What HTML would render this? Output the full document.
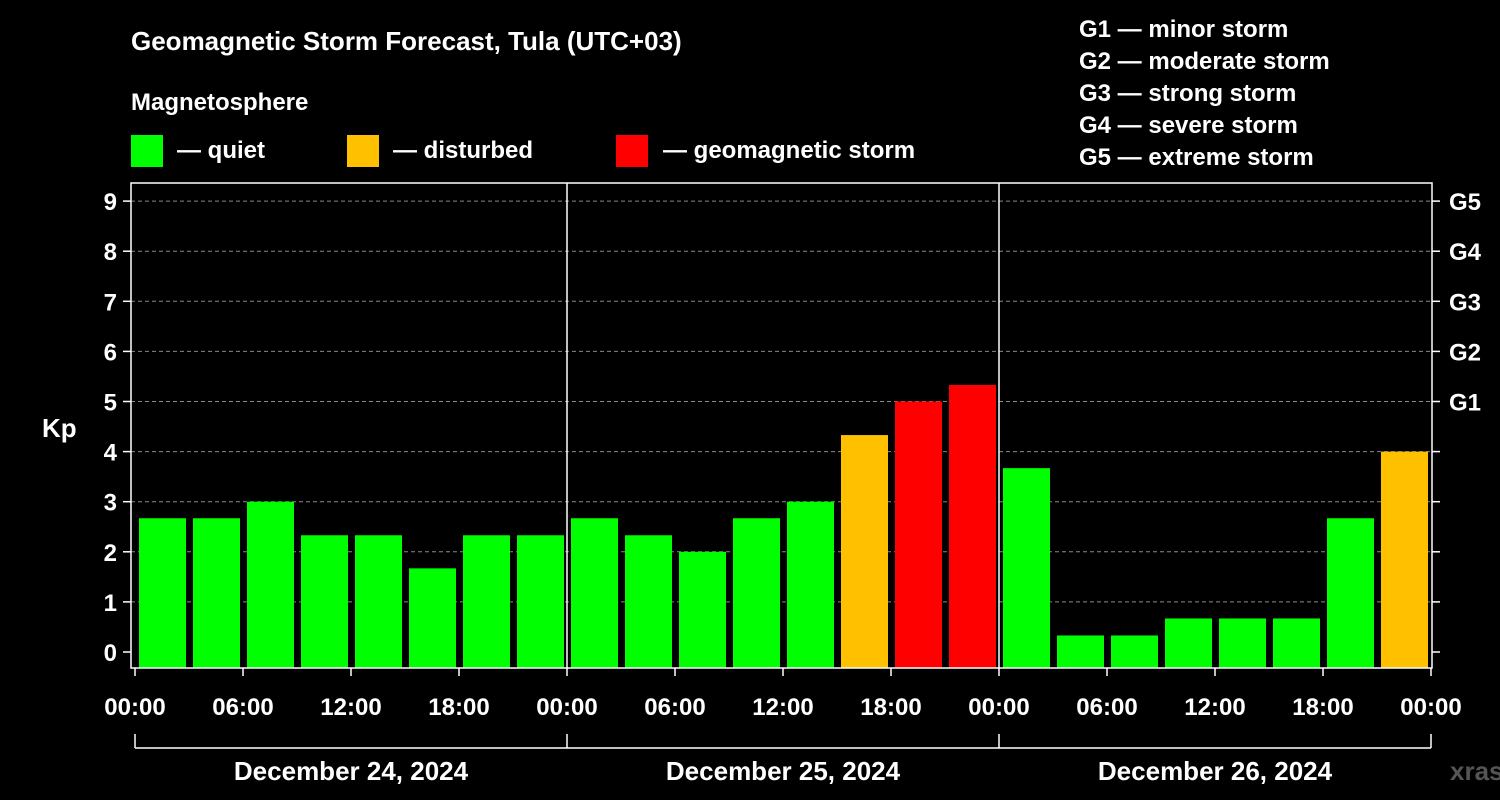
<!DOCTYPE html>
<html><head><meta charset="utf-8"><style>
html,body{margin:0;padding:0;background:#000;}
svg{display:block;font-family:"Liberation Sans",Arial,sans-serif;font-weight:bold;}
</style></head><body>
<svg width="1500" height="800" xmlns="http://www.w3.org/2000/svg" id="chart">
<rect width="1500" height="800" fill="#000"/>
<text x="131" y="50" fill="#fff" font-size="26">Geomagnetic Storm Forecast, Tula (UTC+03)</text>
<text x="131" y="110" fill="#fff" font-size="24">Magnetosphere</text>
<g><rect x="131" y="135" width="32" height="32" fill="#00ff00"/><text x="177" y="158" fill="#fff" font-size="24">— quiet</text></g>
<g><rect x="347" y="135" width="32" height="32" fill="#ffc000"/><text x="393" y="158" fill="#fff" font-size="24">— disturbed</text></g>
<g><rect x="616" y="135" width="32" height="32" fill="#ff0000"/><text x="663" y="158" fill="#fff" font-size="24">— geomagnetic storm</text></g>
<g fill="#fff" font-size="24">
<text x="1079" y="37">G1 — minor storm</text>
<text x="1079" y="69">G2 — moderate storm</text>
<text x="1079" y="101">G3 — strong storm</text>
<text x="1079" y="133">G4 — severe storm</text>
<text x="1079" y="165">G5 — extreme storm</text>
</g>
<text x="42" y="437" fill="#fff" font-size="26">Kp</text>
<g id="grid"></g>
<g id="bars"></g>
<g id="axes"></g>
<text x="1450" y="780" fill="#555" font-size="26">xras.ru</text>
</svg>
<script>
const values = [2.67,2.67,3,2.33,2.33,1.67,2.33,2.33, 2.67,2.33,2,2.67,3,4.33,5,5.33, 3.67,0.33,0.33,0.67,0.67,0.67,2.67,4];
const yTicks = [0,1,2,3,4,5,6,7,8,9];
const gLabels = ["","","","","","G1","G2","G3","G4","G5"];
const xTickLabels = ["00:00","06:00","12:00","18:00","00:00","06:00","12:00","18:00","00:00","06:00","12:00","18:00","00:00"];
const dayLabels = ["December 24, 2024","December 25, 2024","December 26, 2024"];
const NS="http://www.w3.org/2000/svg";
const X0=135, DAY=432, PL=131, PR=1432, PT=183, PB=668;
const xs = h => X0 + h*DAY/24;
const ys = v => 652 - v*50.1;
function mk(t,a,p){const e=document.createElementNS(NS,t);for(const k in a)e.setAttribute(k,a[k]);p.appendChild(e);return e;}
const grid=document.getElementById('grid'), bars=document.getElementById('bars'), axes=document.getElementById('axes');
yTicks.forEach((v,i)=>{
  if(v>0){const l=mk('line',{x1:PL,x2:PR,y1:ys(v),y2:ys(v),stroke:'#888','stroke-dasharray':'4,3','stroke-width':1},grid);
  
  }
  mk('line',{x1:PL-8,x2:PL,y1:ys(v),y2:ys(v),stroke:'#fff','stroke-width':1.5},axes);
  mk('line',{x1:PR,x2:PR+8,y1:ys(v),y2:ys(v),stroke:'#fff','stroke-width':1.5},axes);
  const t=mk('text',{x:PL-14,y:ys(v)+9,fill:'#fff','font-size':24,'text-anchor':'end'},axes);t.textContent=v;
  
  
  if(gLabels[i]){const g=mk('text',{x:PR+17,y:ys(v)+9,fill:'#fff','font-size':24},axes);g.textContent=gLabels[i];
  
  }
});
values.forEach((v,i)=>{
  const c = v>=5?'#ff0000':(v>=4?'#ffc000':'#00ff00');
  const x=xs(i*3)+4, y=ys(v);
  const r=mk('rect',{x:x,y:y,width:47,height:PB-y,fill:c},bars);
  
  
});
mk('rect',{x:PL,y:PT,width:PR-PL,height:PB-PT,fill:'none',stroke:'#fff','stroke-width':1.5},axes);
[1,2].forEach(d=>{mk('line',{x1:xs(d*24),x2:xs(d*24),y1:PT,y2:PB,stroke:'#fff','stroke-width':1.5},axes);});
xTickLabels.forEach((s,i)=>{
  const x=xs(i*6);
  mk('line',{x1:x,x2:x,y1:PB,y2:PB+8,stroke:'#fff','stroke-width':1.5},axes);
  const t=mk('text',{x:x,y:715,fill:'#fff','font-size':24,'text-anchor':'middle'},axes);t.textContent=s;
  
  
});
mk('line',{x1:xs(0),x2:xs(72),y1:748,y2:748,stroke:'#fff','stroke-width':1.5},axes);
[0,1,2,3].forEach(d=>{mk('line',{x1:xs(d*24),x2:xs(d*24),y1:734,y2:748,stroke:'#fff','stroke-width':1.5},axes);});
dayLabels.forEach((s,d)=>{
  const t=mk('text',{x:xs(d*24+12),y:780,fill:'#fff','font-size':26,'text-anchor':'middle'},axes);t.textContent=s;
  
  
});
</script>
</body></html>
